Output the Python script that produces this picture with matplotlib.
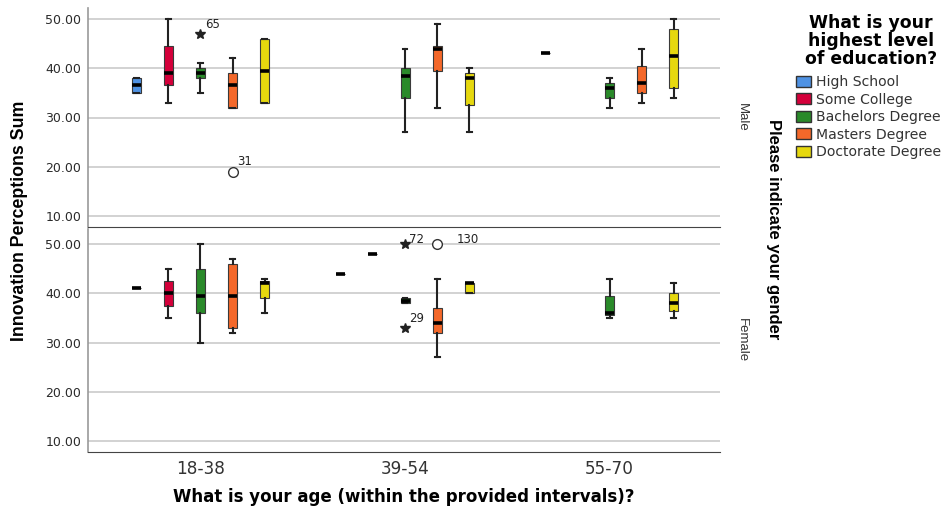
import numpy as np
import matplotlib
matplotlib.use("Agg")
import matplotlib.pyplot as plt
from matplotlib.patches import Patch

plt.rcParams['font.family'] = ['DejaVu Sans']
VFONT = ['Liberation Sans', 'DejaVu Sans']   # vertical titles

ages = ["18-38", "39-54", "55-70"]
education = ["High School", "Some College", "Bachelors Degree", "Masters Degree", "Doctorate Degree"]
colors = ["#4F92E3", "#D4003A", "#2A8A2A", "#F4682A", "#E6D80E"]

# box stats per education level, one entry per age group: (whislo, q1, med, q3, whishi), None = no data
male_stats = [
    [(35, 35, 36.5, 38, 38), None, (43, 43, 43, 43, 43)],
    [(33, 36.5, 39, 44.5, 50), None, None],
    [(35, 38, 39, 40, 41), (27, 34, 38.5, 40, 44), (32, 34, 36, 37, 38)],
    [(32, 32, 36.5, 39, 42), (32, 39.5, 44, 44.5, 49), (33, 35, 37, 40.5, 44)],
    [(33, 33, 39.5, 46, 46), (27, 32.5, 38, 39, 40), (34, 36, 42.5, 48, 50)],
]
female_stats = [
    [(41, 41, 41, 41, 41), (44, 44, 44, 44, 44), None],
    [(35, 37.5, 40, 42.5, 45), (48, 48, 48, 48, 48), None],
    [(30, 36, 39.5, 45, 50), (38, 38, 38.5, 39, 39), (35, 35.5, 36, 39.5, 43)],
    [(32, 33, 39.5, 46, 47), (27, 32, 34, 37, 43), None],
    [(36, 39, 42, 42.5, 43), (40, 40, 42, 42, 42), (35, 36.5, 38, 40, 42)],
]

# outliers: (education index, age index, value, case label, marker)
male_outliers = [(2, 0, 47, "65", "*"), (3, 0, 19, "31", "o")]
female_outliers = [(2, 1, 50, "72", "*"), (2, 1, 33, "29", "*"), (3, 1, 50, "130", "o")]

# where each case label sits relative to its point (points)
label_offsets = {"65": (3, 7), "31": (3.5, 7), "72": (3, 3), "29": (3, 7), "130": (14, 3)}

offset = 0.157
bw = 0.044


def draw_panel(ax, stats, outliers, ylim):
    for e in range(len(education)):
        for a in range(len(ages)):
            s = stats[e][a]
            if s is None:
                continue
            pos = a + (e - 2) * offset
            d = dict(whislo=s[0], q1=s[1], med=s[2], q3=s[3], whishi=s[4], fliers=[])
            ax.bxp([d], positions=[pos], widths=bw, patch_artist=True,
                   showfliers=False, capwidths=[bw * 0.55],
                   boxprops=dict(facecolor=colors[e], edgecolor="#3a3a3a", linewidth=0.8),
                   medianprops=dict(color="black", linewidth=2.6, solid_capstyle="butt"),
                   whiskerprops=dict(color="#222222", linewidth=1.5),
                   capprops=dict(color="#222222", linewidth=1.5),
                   manage_ticks=False, zorder=3)
    for e, a, v, lab, m in outliers:
        pos = a + (e - 2) * offset
        if m == "o":
            ax.plot(pos, v, marker="o", ms=7, mfc="white", mec="#333333", mew=1.0, zorder=4)
        else:
            ax.plot(pos, v, marker="*", ms=7, color="#222222", lw=0, zorder=4)
        ax.annotate(lab, (pos, v), xytext=label_offsets[lab], textcoords="offset points",
                    fontsize=8.5, color="#222222", ha="left", va="center", zorder=4)

    ax.set_xlim(-0.55, 2.54)
    ax.set_ylim(*ylim)
    ax.set_yticks([10, 20, 30, 40, 50])
    ax.set_yticklabels(["10.00", "20.00", "30.00", "40.00", "50.00"])
    ax.grid(axis="y", color="#d2d2d2", linewidth=1.4, zorder=0)
    ax.set_axisbelow(True)
    ax.spines["top"].set_visible(False)
    ax.spines["right"].set_visible(False)
    ax.spines["left"].set_color("#999999")
    ax.spines["left"].set_linewidth(1.2)
    ax.spines["bottom"].set_color("#444444")
    ax.tick_params(axis="y", length=0, labelsize=9, labelcolor="#2a2a2a", pad=5)
    ax.tick_params(axis="x", length=0)


fig = plt.figure(figsize=(9.47, 5.12), dpi=100)
ax_top = fig.add_axes([88 / 947, 1 - 227 / 512, 632 / 947, 219 / 512])
ax_bot = fig.add_axes([88 / 947, 1 - 452 / 512, 632 / 947, 223 / 512])

draw_panel(ax_top, male_stats, male_outliers, (7.76, 52.24))
draw_panel(ax_bot, female_stats, female_outliers, (7.76, 53.06))

ax_top.set_xticks([])
ax_bot.set_xticks(range(len(ages)))
ax_bot.set_xticklabels(ages, fontsize=12.2, color="#333333")
ax_bot.tick_params(axis="x", pad=6)
ax_bot.set_xlabel("What is your age (within the provided intervals)?", fontsize=12,
                  fontweight="bold", labelpad=7)

fig.text(20 / 947, 1 - 221 / 512, "Innovation Perceptions Sum", rotation=90, fontsize=12.8,
         fontweight="bold", family=VFONT, ha="center", va="center")

ax_top.text(1.035, 0.5, "Male", transform=ax_top.transAxes, rotation=-90, fontsize=9.5,
            family=VFONT, color="#333333", ha="center", va="center")
ax_bot.text(1.035, 0.5, "Female", transform=ax_bot.transAxes, rotation=-90, fontsize=9.5,
            family=VFONT, color="#333333", ha="center", va="center")
fig.text(773 / 947, 1 - 229 / 512, "Please indicate your gender", rotation=-90, fontsize=12,
         fontweight="bold", family=VFONT, ha="center", va="center")

fig.text(871 / 947, 1 - 41 / 512, "What is your\nhighest level\nof education?", fontsize=12.4,
         fontweight="bold", ha="center", va="center", linespacing=0.98)

handles = [Patch(facecolor=c, edgecolor="#333333", linewidth=1.0) for c in colors]
leg = fig.legend(handles, education, loc="upper left", bbox_to_anchor=(796 / 947, 1 - 75 / 512),
                 frameon=False, fontsize=10.1, handlelength=1.05, handleheight=0.85,
                 handletextpad=0.35, labelspacing=0.25, borderpad=0, borderaxespad=0)
for t in leg.get_texts():
    t.set_color("#333333")

fig.savefig("out.png", dpi=100)
